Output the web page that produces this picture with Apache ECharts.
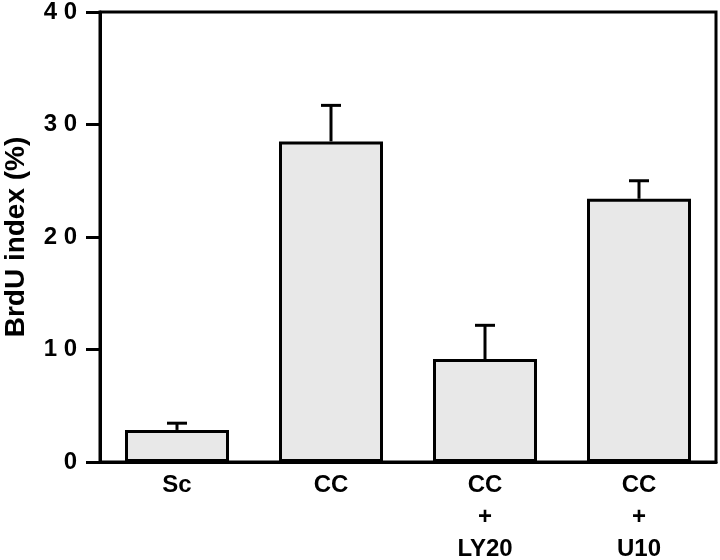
<!DOCTYPE html>
<html>
<head>
<meta charset="utf-8">
<script src="https://cdn.jsdelivr.net/npm/echarts@6/dist/echarts.min.js"></script>
<style>html,body{margin:0;padding:0;background:#fff;}#c{width:720px;height:560px;}</style>
</head>
<body>
<div id="c"></div>
<script>
var categories = ['Sc', 'CC', 'CC\n+\nLY20', 'CC\n+\nU10'];
var values = [2.85, 28.5, 9.15, 23.4];
var errors = [0.6, 3.2, 3.0, 1.6];
var yTickValues = [0, 10, 20, 30, 40];
var yTickLabels = ['0', '1 0', '2 0', '3 0', '4 0'];
var yAxisTitle = 'BrdU index (%)';

var font = '"Liberation Sans", Arial, Helvetica, sans-serif';
var chart = echarts.init(document.getElementById('c'), null, {renderer: 'canvas'});
var errData = values.map(function (v, i) { return [i, v, v + errors[i]]; });

chart.setOption({
  animation: false,
  backgroundColor: '#ffffff',
  grid: {left: 100, right: 4, top: 12, bottom: 98, containLabel: false, outerBoundsMode: 'none',
         show: true, borderColor: '#000', borderWidth: 3, backgroundColor: 'transparent'},
  xAxis: {
    type: 'category',
    data: categories,
    axisLine: {show: true, lineStyle: {color: '#000', width: 3}},
    axisTick: {show: false},
    axisLabel: {color: '#000', fontFamily: font, fontWeight: 'bold', fontSize: 24, lineHeight: 32, margin: 7, interval: 0},
    splitLine: {show: false}
  },
  yAxis: {
    type: 'value',
    min: 0, max: 40, interval: 10,
    name: yAxisTitle,
    nameLocation: 'middle',
    nameGap: 70,
    nameTextStyle: {color: '#000', fontFamily: font, fontWeight: 'bold', fontSize: 28},
    axisLine: {show: true, lineStyle: {color: '#000', width: 3}},
    axisTick: {show: true, length: 14, lineStyle: {color: '#000', width: 3}},
    axisLabel: {
      color: '#000', fontFamily: font, fontWeight: 'bold', fontSize: 24, margin: 23,
      formatter: function (v) { var i = yTickValues.indexOf(v); return i >= 0 ? yTickLabels[i] : ''; }
    },
    splitLine: {show: false}
  },
  series: [
    {
      type: 'bar',
      data: values,
      barWidth: 104,
      itemStyle: {color: '#e8e8e8', borderColor: '#000', borderWidth: 3},
      z: 2
    },
    {
      type: 'custom',
      data: errData,
      z: 3,
      renderItem: function (params, api) {
        var x = api.value(0);
        var lo = api.coord([x, api.value(1)]);
        var hi = api.coord([x, api.value(2)]);
        var hw = 10;
        return {
          type: 'group',
          children: [
            {type: 'line', shape: {x1: lo[0], y1: lo[1], x2: hi[0], y2: hi[1]}, style: {stroke: '#000', lineWidth: 3}},
            {type: 'line', shape: {x1: hi[0] - hw, y1: hi[1], x2: hi[0] + hw, y2: hi[1]}, style: {stroke: '#000', lineWidth: 3}}
          ]
        };
      }
    }
  ]
});
</script>
</body>
</html>
